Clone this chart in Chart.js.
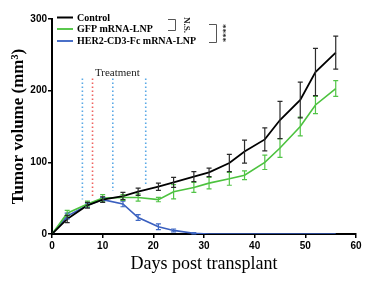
<!DOCTYPE html>
<html>
<head>
<meta charset="utf-8">
<script src="https://cdn.jsdelivr.net/npm/chart.js@4.4.1/dist/chart.umd.min.js"></script>
<style>
html, body { margin: 0; padding: 0; background: #fff; }
#wrap { width: 375px; height: 281px; }
</style>
</head>
<body>
<div id="wrap"><canvas id="myGraf" width="375" height="281"></canvas></div>
<script>
// days post transplant
var days = [0, 3, 7, 10, 14, 17, 21, 24, 28, 31, 35, 38, 42, 45, 49, 52, 56];

// tumor volume (mm3), with error bars
var control    = [0, 21, 40, 48, 53, 59, 66, 72, 80, 86, 99, 115, 132, 159, 187, 226, 253];
var controlErr = [0, 5, 4, 4, 5, 5, 5, 7, 7, 6, 12, 16, 16, 26, 25, 33, 23];
var gfp        = [0, 29, 42, 50, 51, 51, 48, 59, 65, 71, 77, 82, 100, 120, 150, 180, 203];
var gfpErr     = [0, 4, 4, 5, 4, 5, 3, 10, 7, 8, 9, 6, 10, 13, 13, 12, 11];
var her2       = [0, 25, 40, 48, 42, 23, 10, 5, 1, 0, 0, 0, 0, 0, 0, 0, 0];
var her2Err    = [0, 4, 3, 3, 4, 4, 4, 2, 1, 0, 0, 0, 0, 0, 0, 0, 0];

// treatment days (dotted lines)
var treatDays   = [6, 8, 12, 18.5];
var treatTop    = 217;
var treatBottom = [48, 52, 60, 68];
var treatColors = ['#5aa9e6', '#f0625e', '#5aa9e6', '#5aa9e6'];

var xTicks = [0, 10, 20, 30, 40, 50, 60];
var yTicks = [0, 100, 200, 300];

function toPoints(vals) {
    return vals.map(function(v, i) { return {x: days[i], y: v}; });
}

var datasets = [{
    label: 'Control',
    data: toPoints(control),
    errors: controlErr,
    errorColor: '#2b2b2b',
    borderColor: '#000000',
    borderWidth: 1.8,
    pointRadius: 0,
    order: 0
}, {
    label: 'GFP mRNA-LNP',
    data: toPoints(gfp),
    errors: gfpErr,
    errorColor: '#52c447',
    borderColor: '#4cc23e',
    borderWidth: 1.6,
    pointRadius: 0,
    order: 1
}, {
    label: 'HER2-CD3-Fc mRNA-LNP',
    data: toPoints(her2),
    errors: her2Err,
    errorColor: '#3f68c4',
    borderColor: '#3a5fbf',
    borderWidth: 1.6,
    pointRadius: 0,
    order: 2
}];

treatDays.forEach(function(d, i) {
    datasets.push({
        label: 'treat' + i,
        data: [{x: d, y: treatTop}, {x: d, y: treatBottom[i]}],
        borderColor: treatColors[i],
        borderWidth: 1.6,
        borderDash: [1.5, 2.5],
        pointRadius: 0,
        order: 10
    });
});

var errorBars = {
    id: 'errorBars',
    afterDatasetsDraw: function(chart) {
        var ctx = chart.ctx;
        var xs = chart.scales.x, ys = chart.scales.y;
        // draw in reverse so control sits on top
        for (var i = 2; i >= 0; i--) {
            var ds = chart.data.datasets[i];
            ctx.save();
            ctx.strokeStyle = ds.errorColor;
            ctx.lineWidth = 1.2;
            ds.data.forEach(function(p, j) {
                var e = ds.errors[j];
                if (!e) return;
                var px = xs.getPixelForValue(p.x);
                var top = ys.getPixelForValue(p.y + e);
                var bot = ys.getPixelForValue(Math.max(p.y - e, 0));
                ctx.beginPath();
                ctx.moveTo(px, top); ctx.lineTo(px, bot);
                ctx.moveTo(px - 2.5, top); ctx.lineTo(px + 2.5, top);
                ctx.moveTo(px - 2.5, bot); ctx.lineTo(px + 2.5, bot);
                ctx.stroke();
            });
            ctx.restore();
        }
    }
};

var annotations = {
    id: 'annotations',
    afterDraw: function(chart) {
        var ctx = chart.ctx;
        var xs = chart.scales.x, ys = chart.scales.y;
        ctx.save();

        // legend
        var rows = [17.5, 29, 41];
        var cols = ['#000000', '#5ac84e', '#4a70c8'];
        ctx.font = 'bold 10px "Liberation Serif"';
        ctx.textBaseline = 'middle';
        ctx.textAlign = 'left';
        for (var i = 0; i < 3; i++) {
            ctx.strokeStyle = cols[i];
            ctx.lineWidth = 2;
            ctx.beginPath();
            ctx.moveTo(57, rows[i]); ctx.lineTo(73, rows[i]);
            ctx.stroke();
            ctx.fillStyle = '#000';
            ctx.fillText(chart.data.datasets[i].label, 77, rows[i] + 0.5);
        }

        // Treatment label
        ctx.font = '11px "Liberation Serif"';
        ctx.textAlign = 'center';
        ctx.fillStyle = '#222';
        ctx.fillText('Treatment', xs.getPixelForValue(12.9), ys.getPixelForValue(225));

        // significance brackets
        ctx.strokeStyle = '#555';
        ctx.lineWidth = 1;
        ctx.beginPath();
        ctx.moveTo(168, 19.5); ctx.lineTo(175.5, 19.5); ctx.lineTo(175.5, 30.5); ctx.lineTo(168, 30.5);
        ctx.moveTo(209, 24.5); ctx.lineTo(216.5, 24.5); ctx.lineTo(216.5, 42.5); ctx.lineTo(209, 42.5);
        ctx.stroke();

        ctx.fillStyle = '#222';
        ctx.font = 'bold 9px "Liberation Serif"';
        ctx.save();
        ctx.translate(186, 25);
        ctx.rotate(Math.PI / 2);
        ctx.fillText('N.S.', 0, 0);
        ctx.restore();

        ctx.font = 'bold 9px "Liberation Serif"';
        ctx.save();
        ctx.translate(222, 33);
        ctx.rotate(Math.PI / 2);
        ctx.fillText('****', 0, 0);
        ctx.restore();

        ctx.restore();
    }
};

var ctx = document.getElementById('myGraf').getContext('2d');
var myGraf = new Chart(ctx, {
    type: 'line',
    data: { datasets: datasets },
    options: {
        responsive: false,
        animation: false,
        devicePixelRatio: 1,
        layout: { padding: { top: 19, right: 19, left: 0, bottom: 0 } },
        plugins: {
            legend: { display: false },
            tooltip: { enabled: false }
        },
        elements: { line: { tension: 0 } },
        scales: {
            x: {
                type: 'linear',
                min: 0, max: 60,
                afterBuildTicks: function(s) { s.ticks = xTicks.map(function(v) { return {value: v}; }); },
                afterFit: function(s) { s.height = 47; },
                border: { display: true, color: '#000', width: 2 },
                grid: { drawOnChartArea: false, drawTicks: true, tickLength: 4, color: '#000', lineWidth: 1.5 },
                ticks: { color: '#000', padding: 2, maxRotation: 0, font: { family: '"Liberation Sans"', size: 10, weight: 'bold' } },
                title: {
                    display: true,
                    text: 'Days post transplant',
                    color: '#000',
                    padding: { top: 0, bottom: 6 },
                    font: { family: '"Liberation Serif"', size: 18 }
                }
            },
            y: {
                type: 'linear',
                min: 0, max: 300,
                afterBuildTicks: function(s) { s.ticks = yTicks.map(function(v) { return {value: v}; }); },
                afterFit: function(s) { s.width = 52; },
                border: { display: true, color: '#000', width: 2 },
                grid: { drawOnChartArea: false, drawTicks: true, tickLength: 4, color: '#000', lineWidth: 1.5 },
                ticks: { color: '#000', padding: 1, font: { family: '"Liberation Sans"', size: 10, weight: 'bold' } },
                title: {
                    display: true,
                    text: 'Tumor volume (mm³)',
                    color: '#000',
                    padding: { top: 8, bottom: 0 },
                    font: { family: '"Liberation Serif"', size: 17, weight: 'bold' }
                }
            }
        }
    },
    plugins: [errorBars, annotations]
});
</script>
</body>
</html>
